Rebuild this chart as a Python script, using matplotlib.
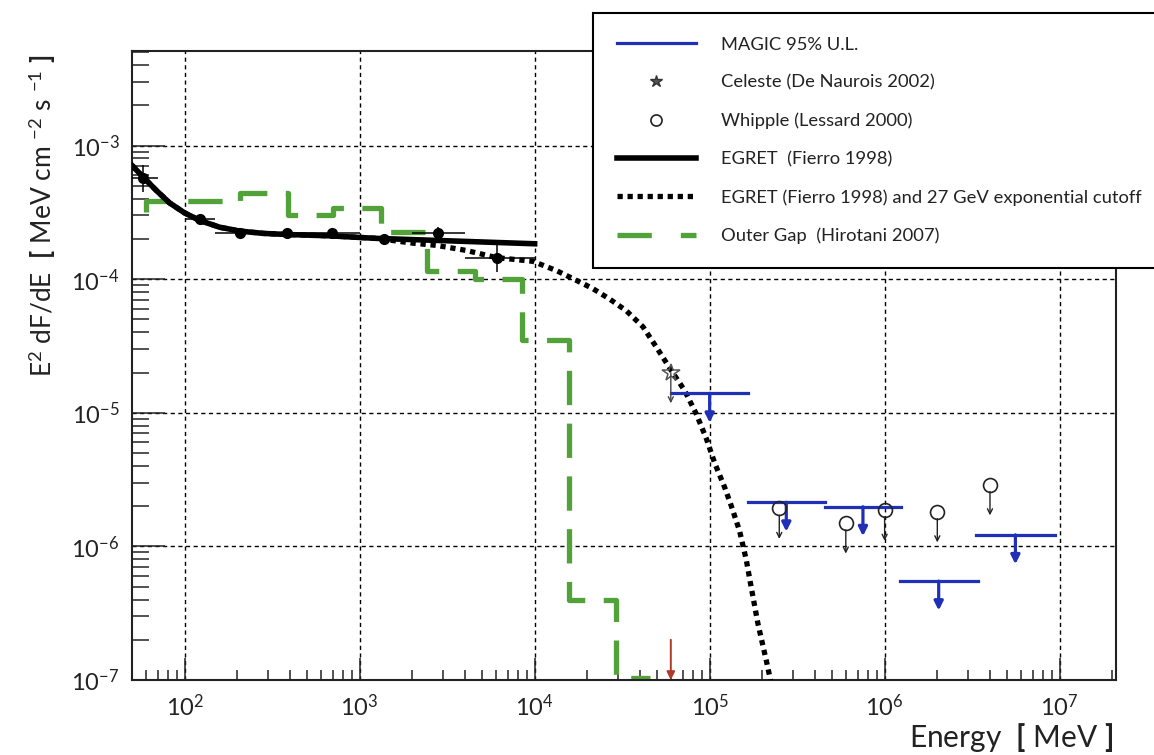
import numpy as np
import matplotlib
matplotlib.use("Agg")
from matplotlib import pyplot as plt
from matplotlib.lines import Line2D
from matplotlib.ticker import LogLocator, NullFormatter, FuncFormatter

plt.rcParams['font.family'] = ['Lato', 'DejaVu Sans']
plt.rcParams['mathtext.fontset'] = 'custom'
plt.rcParams['mathtext.rm'] = 'Lato'
plt.rcParams['mathtext.it'] = 'Lato:italic'
plt.rcParams['mathtext.bf'] = 'Lato:bold'

# EGRET spectral points (MeV, MeV cm^-2 s^-1)
egret_e = [58, 122, 206, 383, 692, 1370, 2790, 6070]
egret_elo = [50, 100, 150, 300, 500, 1000, 2000, 4000]
egret_ehi = [70, 150, 300, 500, 1000, 2000, 4000, 10000]
egret_f = [5.7e-4, 2.8e-4, 2.2e-4, 2.2e-4, 2.2e-4, 2.0e-4, 2.2e-4, 1.45e-4]
egret_flo = [4.5e-4, 2.6e-4, 2.1e-4, 2.1e-4, 2.1e-4, 1.9e-4, 1.95e-4, 1.13e-4]
egret_fhi = [7.2e-4, 3.0e-4, 2.3e-4, 2.3e-4, 2.3e-4, 2.1e-4, 2.45e-4, 1.85e-4]

# EGRET fit
fit_e = [50, 58, 69, 82, 100, 122, 158, 206, 282, 381, 674, 1245, 2740, 10000]
fit_f = [7.1e-4, 5.8e-4, 4.6e-4, 3.72e-4, 3.13e-4, 2.75e-4, 2.45e-4, 2.29e-4,
         2.2e-4, 2.16e-4, 2.11e-4, 2.02e-4, 1.95e-4, 1.84e-4]

# EGRET fit with 27 GeV exponential cutoff
cut_e = [50, 58, 69, 82, 100, 122, 158, 206, 282, 381, 674, 1245, 2010, 2740,
         4070, 6040, 9770, 13300, 17300, 21500, 26800, 33400, 41600, 49600,
         60400, 71900, 83900, 95800, 106900, 121800, 133100, 148400, 162000,
         173000, 189000, 211000, 223000]
cut_f = [7.1e-4, 5.8e-4, 4.6e-4, 3.72e-4, 3.13e-4, 2.75e-4, 2.45e-4, 2.29e-4,
         2.2e-4, 2.16e-4, 2.11e-4, 2.02e-4, 1.86e-4, 1.79e-4, 1.64e-4, 1.45e-4,
         1.36e-4, 1.16e-4, 9.8e-5, 8.5e-5, 7.1e-5, 5.8e-5, 4.4e-5, 3.1e-5,
         2.07e-5, 1.47e-5, 9.8e-6, 6.4e-6, 4.2e-6, 2.77e-6, 2.0e-6, 1.3e-6,
         7.9e-7, 4.9e-7, 2.62e-7, 1.39e-7, 9.9e-8]

# Outer gap model (bin edges and flux per bin)
og_edges = [60, 206, 388, 701, 1318, 2415, 4540, 8430, 15630, 29000, 45400]
og_flux = [3.83e-4, 4.39e-4, 3.01e-4, 3.39e-4, 2.25e-4, 1.16e-4, 9.97e-5,
           3.48e-5, 4.0e-7, 1.04e-7]
og_start = 3.2e-4

# MAGIC 95% upper limits
magic_lo = [6.04e4, 1.656e5, 4.54e5, 1.22e6, 3.34e6]
magic_hi = [1.656e5, 4.54e5, 1.245e6, 3.40e6, 9.35e6]
magic_f = [1.40e-5, 2.14e-6, 1.98e-6, 5.5e-7, 1.22e-6]

# Celeste and Whipple upper limits
celeste_e = [6.0e4]
celeste_f = [2.0e-5]
whipple_e = [2.5e5, 6.0e5, 1.0e6, 2.0e6, 4.0e6]
whipple_f = [1.93e-6, 1.50e-6, 1.87e-6, 1.82e-6, 2.9e-6]

# extra limit at the bottom of the plot
red_e = 6.0e4
red_f = 2.0e-7

blue = '#1f2fb8'
green = '#52a23a'
red = '#b03a2a'
ul_drop = 10 ** -0.22

fig = plt.figure(figsize=(11.54, 7.55), dpi=100)
ax = fig.add_axes([132 / 1154, 1 - 680 / 755, 984 / 1154, 629 / 755])
ax.set_xscale('log')
ax.set_yscale('log')
ax.set_xlim(50, 2.1e7)
ax.set_ylim(1e-7, 5.1e-3)

# grid
ax.set_axisbelow(True)
ax.grid(True, which='major', color='k', lw=1.0, ls=(0, (3, 2.5)))

# outer gap step curve
sx, sy = [og_edges[0]], [og_start]
for i, f in enumerate(og_flux):
    sx += [og_edges[i], og_edges[i + 1]]
    sy += [f, f]
ax.plot(sx, sy, color=green, lw=3.8, ls=(0, (6.5, 3.5)), solid_capstyle='butt')

# EGRET fits
ax.plot(cut_e, cut_f, color='k', lw=3.8, ls=(0, (1.0, 0.9)), zorder=3)
ax.plot(fit_e, fit_f, color='k', lw=4.0, zorder=4, solid_joinstyle='round')

# EGRET points
ex = [np.subtract(egret_e, egret_elo), np.subtract(egret_ehi, egret_e)]
ey = [np.subtract(egret_f, egret_flo), np.subtract(egret_fhi, egret_f)]
ax.errorbar(egret_e, egret_f, xerr=ex, yerr=ey, fmt='o', color='k', ms=7,
            elinewidth=1.1, capsize=0, zorder=5)

# MAGIC upper limits
for lo, hi, f in zip(magic_lo, magic_hi, magic_f):
    ax.plot([lo, hi], [f, f], color=blue, lw=2.3, zorder=6)
    xc = np.sqrt(lo * hi)
    ax.annotate('', xy=(xc, f * ul_drop), xytext=(xc, f),
                arrowprops=dict(arrowstyle='-|>', color=blue, lw=2.3,
                                mutation_scale=13, shrinkA=0, shrinkB=0),
                zorder=6)

# Whipple
ax.plot(whipple_e, whipple_f, ls='none', marker='o', ms=10, mfc='none',
        mec='#222222', mew=1.2, zorder=7)
for e, f in zip(whipple_e, whipple_f):
    ax.annotate('', xy=(e, f * 10 ** -0.23), xytext=(e, f),
                arrowprops=dict(arrowstyle='->', color='#222222', lw=1.0,
                                mutation_scale=9, shrinkA=5, shrinkB=0),
                zorder=7)

# Celeste
ax.plot(celeste_e, celeste_f, ls='none', marker='*', ms=13, mfc='none',
        mec='#555555', mew=1.1, zorder=7)
for e, f in zip(celeste_e, celeste_f):
    ax.annotate('', xy=(e, f * 10 ** -0.23), xytext=(e, f),
                arrowprops=dict(arrowstyle='->', color='#444444', lw=1.0,
                                mutation_scale=9, shrinkA=0, shrinkB=0),
                zorder=7)

ax.annotate('', xy=(red_e, 1.0e-7), xytext=(red_e, red_f),
            arrowprops=dict(arrowstyle='-|>', color=red, lw=1.4,
                            mutation_scale=12, shrinkA=0, shrinkB=0),
            zorder=7)

# axes styling
for s in ax.spines.values():
    s.set_linewidth(1.5)
    s.set_color('#222222')
ax.xaxis.set_major_locator(LogLocator(base=10, numticks=20))
ax.yaxis.set_major_locator(LogLocator(base=10, numticks=20))
ax.xaxis.set_minor_locator(LogLocator(base=10, subs=np.arange(2, 10), numticks=20))
ax.yaxis.set_minor_locator(LogLocator(base=10, subs=np.arange(2, 10), numticks=20))
ax.xaxis.set_minor_formatter(NullFormatter())
ax.yaxis.set_minor_formatter(NullFormatter())
fmt = FuncFormatter(lambda v, p: r'$\mathregular{10^{%d}}$' % round(np.log10(v)))
ax.xaxis.set_major_formatter(fmt)
ax.yaxis.set_major_formatter(fmt)
ax.tick_params(which='both', direction='in', top=False, right=False,
               width=1.1, color='#222222', labelsize=17, labelcolor='#222222')
ax.tick_params(axis='y', which='major', length=24, pad=9)
ax.tick_params(axis='y', which='minor', length=12)
ax.tick_params(axis='x', which='major', length=16, pad=10)
ax.tick_params(axis='x', which='minor', length=7)

fig.text(42 / 1154, 1 - 55 / 755,
         r'E$^{2}$ dF/dE  $\mathbf{[}$ MeV cm $^{-2}$ s $^{-1}$ $\mathbf{]}$',
         rotation=90, rotation_mode='anchor', ha='right', va='center',
         fontsize=19, color='#222222')
fig.text(1113 / 1154, 1 - 738 / 755, r'Energy  $\mathbf{[}$ MeV $\mathbf{]}$',
         ha='right', va='center', fontsize=21.5, color='#222222')

handles = [
    Line2D([], [], color=blue, lw=2.3),
    Line2D([], [], ls='none', marker='*', ms=9, mfc='#555555', mec='#333333'),
    Line2D([], [], ls='none', marker='o', ms=8, mfc='none', mec='#222222', mew=1.2),
    Line2D([], [], color='k', lw=4.0),
    Line2D([], [], color='k', lw=3.8, ls=(0, (1.0, 0.9))),
    Line2D([], [], color=green, lw=3.8, ls=(0, (6.5, 5.5))),
]
labels = [
    'MAGIC 95% U.L.',
    'Celeste (De Naurois 2002)',
    'Whipple (Lessard 2000)',
    'EGRET  (Fierro 1998)',
    'EGRET (Fierro 1998) and 27 GeV exponential cutoff',
    'Outer Gap  (Hirotani 2007)',
]
leg = fig.legend(handles, labels, loc='center left',
                 bbox_to_anchor=(593 / 1154, 1 - 271 / 755, 580 / 1154, 261 / 755),
                 mode='expand', borderaxespad=0, fontsize=13.2, handlelength=4.3,
                 handletextpad=1.4, labelspacing=1.2, borderpad=1.3,
                 frameon=True, fancybox=False, framealpha=1, edgecolor='k')
leg.get_frame().set_linewidth(1.5)
for t in leg.get_texts():
    t.set_color('#222222')

fig.savefig('out.png', dpi=100)
